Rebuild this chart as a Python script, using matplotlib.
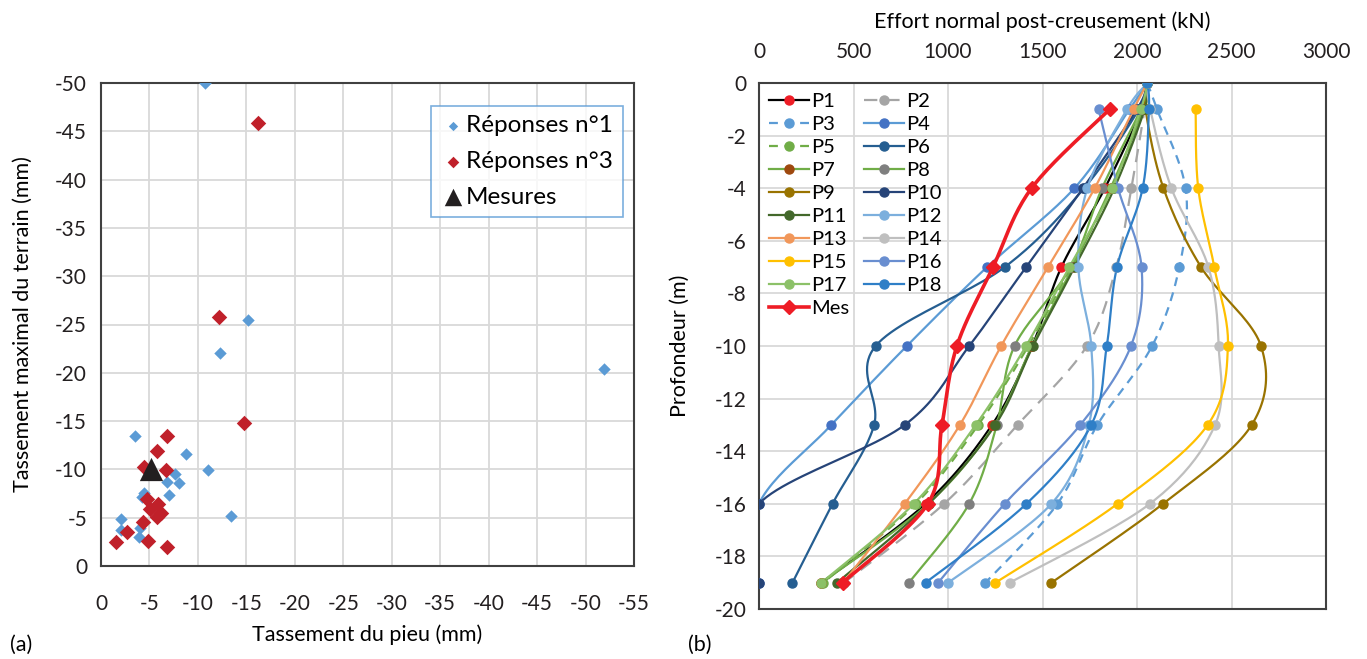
import numpy as np
import matplotlib
matplotlib.use("Agg")
from matplotlib import pyplot as plt

plt.rcParams['font.family'] = ['Lato', 'DejaVu Sans']
plt.rcParams['axes.unicode_minus'] = False

# ---- (a) scatter data (mm) ----
rep1_x = [-10.7, -15.2, -12.3, -3.5, -8.75, -11.0, -7.6, -6.85, -8.0, -4.4,
          -4.2, -7.0, -13.4, -2.1, -2.1, -4.0, -3.9, -51.9]
rep1_y = [-50.0, -25.5, -22.1, -13.5, -11.6, -9.9, -9.5, -8.7, -8.6, -7.6,
          -7.1, -7.3, -5.2, -4.9, -3.7, -3.9, -3.0, -20.4]
rep3_x = [-16.2, -12.2, -14.8, -6.8, -5.75, -4.4, -6.7, -4.7, -5.9, -5.1,
          -6.2, -5.75, -4.3, -2.65, -1.55, -4.9, -6.85]
rep3_y = [-45.9, -25.8, -14.8, -13.5, -11.9, -10.3, -9.9, -6.9, -6.4, -5.9,
          -5.45, -5.1, -4.6, -3.55, -2.45, -2.6, -2.0]
mes_x = [-5.2]
mes_y = [-10.0]

# ---- (b) normal force profiles (kN) vs depth (m) ----
depth = [0, -1, -4, -7, -10, -13, -16, -19]
nan = np.nan
P1 = [2055, 2025, 1830, 1600, 1445, 1233, 881, 330]
P2 = [2055, 2040, 1970, 1890, 1735, 1368, 979, 450]
P3 = [2055, 2106, 2257, 2224, 2080, 1790, 1579, 1198]
P4 = [2055, 1960, 1669, 1206, 782, 383, 0, 0]
P5 = [2055, 2030, 1870, 1650, 1425, 1160, 830, 340]
P6 = [2055, 2010, 1720, 1300, 617, 609, 389, 177]
P7 = [2055, 2035, 1860, 1660, 1445, 1245, 895, 330]
P8 = [2055, 2020, 1815, 1650, 1352, 1258, 1112, 793]
P9 = [2055, 2045, 2140, 2339, 2656, 2607, 2138, 1547]
P10 = [2055, 2000, 1714, 1413, 1112, 771, 0, 0]
P11 = [2055, 2040, 1880, 1670, 1450, 1250, 898, 413]
P12 = [2055, 1947, 1737, 1690, 1758, 1745, 1547, 1001]
P13 = [2055, 1982, 1776, 1529, 1281, 1063, 771, 445]
P14 = [2055, 2070, 2182, 2378, 2432, 2413, 2068, 1327]
P15 = [nan, 2310, 2324, 2409, 2481, 2374, 1897, 1251]
P16 = [nan, 1797, 1900, 2024, 1968, 1700, 1300, 948]
P17 = [2055, 2020, 1869, 1642, 1413, 1147, 819, 330]
P18 = [2055, 2063, 2030, 1894, 1840, 1758, 1415, 881]
mes_depth = [-1, -4, -7, -10, -13, -16, -19]
Mes = [1855, 1442, 1238, 1047, 968, 893, 442]

series = [
    ('P1', P1, '#000000', '#ee1c25', '-'),
    ('P2', P2, '#a5a5a5', '#a5a5a5', (0, (6, 4))),
    ('P3', P3, '#5b9bd5', '#5b9bd5', (0, (4, 3))),
    ('P4', P4, '#5b9bd5', '#4472c4', '-'),
    ('P5', P5, '#70ad47', '#70ad47', (0, (4, 3))),
    ('P6', P6, '#255e91', '#255e91', '-'),
    ('P7', P7, '#70ad47', '#9e480e', '-'),
    ('P8', P8, '#70ad47', '#7f7f7f', '-'),
    ('P9', P9, '#997300', '#997300', '-'),
    ('P10', P10, '#264478', '#264478', '-'),
    ('P11', P11, '#43682b', '#43682b', '-'),
    ('P12', P12, '#7cafdd', '#7cafdd', '-'),
    ('P13', P13, '#f1975a', '#f1975a', '-'),
    ('P14', P14, '#bfbfbf', '#bfbfbf', '-'),
    ('P15', P15, '#ffc000', '#ffc000', '-'),
    ('P16', P16, '#698ed0', '#698ed0', '-'),
    ('P17', P17, '#8cc168', '#8cc168', '-'),
    ('P18', P18, '#2f7fc7', '#2f7fc7', '-'),
]


def smooth(x, y, n=24, sx=567 / 3000, sy=526 / 20):
    """Excel-like smoothed line (Catmull-Rom in screen units)."""
    x = np.asarray(x, float)
    y = np.asarray(y, float)
    ok = ~np.isnan(x)
    pts = np.column_stack([x[ok] * sx, y[ok] * sy])
    ext = np.vstack([pts[0], pts, pts[-1]])
    out = []
    t = np.linspace(0, 1, n)[:, None]
    for i in range(1, len(ext) - 2):
        p0, p1, p2, p3 = ext[i - 1], ext[i], ext[i + 1], ext[i + 2]
        c1 = p1 + (p2 - p0) / 6
        c2 = p2 - (p3 - p1) / 6
        seg = ((1 - t) ** 3) * p1 + 3 * ((1 - t) ** 2) * t * c1 \
            + 3 * (1 - t) * t ** 2 * c2 + t ** 3 * p2
        out.append(seg if i == 1 else seg[1:])
    out = np.vstack(out)
    return out[:, 0] / sx, out[:, 1] / sy


fig = plt.figure(figsize=(13.67, 6.59), dpi=100)
grid_c = '#d9d9d9'
spine_c = '#404040'

# ----------------- (a) -----------------
ax1 = fig.add_axes([101 / 1367, 93 / 659, 533 / 1367, 483 / 659])
ax1.scatter(rep1_x, rep1_y, marker='D', s=40, color='#5b9bd5', zorder=3,
            label='Réponses n°1', linewidths=0)
ax1.scatter(rep3_x, rep3_y, marker='D', s=62, color='#c0202a', zorder=3,
            label='Réponses n°3', linewidths=0)
ax1.scatter(mes_x, mes_y, marker='^', s=280, color='#231f20', zorder=4,
            label='Mesures', linewidths=0)
ax1.set_xlim(0, -55)
ax1.set_ylim(0, -50)
ax1.set_xticks(np.arange(0, -56, -5))
ax1.set_yticks(np.arange(0, -51, -5))
ax1.grid(True, color=grid_c, linewidth=1.3)
ax1.set_axisbelow(True)
ax1.tick_params(length=0, labelsize=15, colors='#231f20')
ax1.tick_params(axis='x', pad=20)
ax1.tick_params(axis='y', pad=10)
for s in ax1.spines.values():
    s.set_color(spine_c)
    s.set_linewidth(1.5)
ax1.set_xlabel('Tassement du pieu (mm)', fontsize=15.5, labelpad=8)
ax1.set_ylabel('Tassement maximal du terrain (mm)', fontsize=15.5, labelpad=16)
leg1 = ax1.legend(loc='upper left', bbox_to_anchor=(0.619, 0.953), fontsize=17.5,
                  frameon=True, fancybox=False, edgecolor='#5b9bd5',
                  handletextpad=0.05, borderpad=0.4, labelspacing=0.6,
                  handlelength=1.0, markerscale=0.75, borderaxespad=0)
leg1.get_frame().set_linewidth(1.2)

# ----------------- (b) -----------------
ax2 = fig.add_axes([759 / 1367, 50 / 659, 567 / 1367, 526 / 659])
for name, vals, lc, mc, ls in series:
    xs, ys = smooth(vals, depth)
    ax2.plot(xs, ys, color=lc, linestyle=ls, linewidth=1.6, zorder=2)
    ax2.plot(vals, depth, linestyle='none', marker='o', markersize=6.5,
             color=mc, zorder=3)
    ax2.plot([], [], color=lc, linestyle=ls, linewidth=1.6, marker='o',
             markersize=6.5, markerfacecolor=mc, markeredgecolor=mc, label=name)
xs, ys = smooth(Mes, mes_depth)
ax2.plot(xs, ys, color='#ee1c25', linewidth=2.6, zorder=4)
ax2.plot(Mes, mes_depth, linestyle='none', marker='D', markersize=7.5,
         color='#ee1c25', zorder=5)
ax2.plot([], [], color='#ee1c25', linewidth=2.6, marker='D', markersize=7.5,
         label='Mes')

ax2.set_xlim(0, 3000)
ax2.set_ylim(-20, 0)
ax2.set_xticks(np.arange(0, 3001, 500))
ax2.set_yticks(np.arange(-20, 1, 2))
ax2.xaxis.tick_top()
ax2.xaxis.set_label_position('top')
ax2.grid(True, color=grid_c, linewidth=1.3)
ax2.set_axisbelow(True)
ax2.tick_params(length=0, labelsize=15, colors='#231f20')
ax2.tick_params(axis='x', pad=15)
ax2.tick_params(axis='y', pad=9)
for s in ax2.spines.values():
    s.set_color(spine_c)
    s.set_linewidth(1.5)
ax2.set_xlabel('Effort normal post-creusement (kN)', fontsize=15.5, labelpad=10)
ax2.set_ylabel('Profondeur (m)', fontsize=15.5, labelpad=18)

handles, labels = ax2.get_legend_handles_labels()
order = list(range(0, 19, 2)) + list(range(1, 18, 2))
ax2.legend([handles[i] for i in order], [labels[i] for i in order],
           loc='upper left', bbox_to_anchor=(0.0, 1.0), ncol=2,
           frameon=False, fontsize=14.5, handlelength=2.0, handletextpad=0.1,
           labelspacing=0.29, columnspacing=0.7, borderaxespad=0.1)

fig.text(10 / 1367, 1 - 645 / 659, '(a)', fontsize=15.5, va='center')
fig.text(688 / 1367, 1 - 645 / 659, '(b)', fontsize=15.5, va='center')

fig.savefig('out.png', dpi=100)
